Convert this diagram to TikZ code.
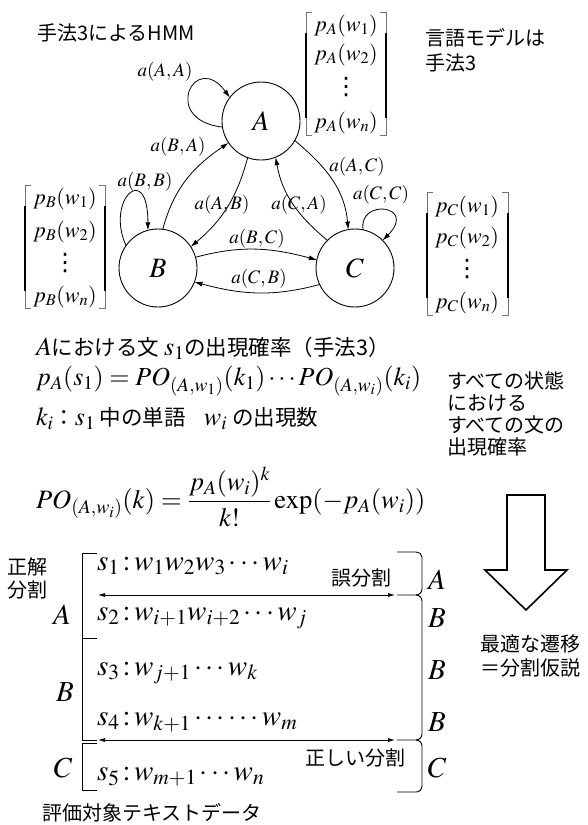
\documentclass[tikz,border=0pt]{standalone}
\usepackage{mathptmx}
\usepackage{fontspec}
\setmainfont{Liberation Serif}
\newfontfamily\jpf{Noto Sans CJK JP}
\newfontfamily\dvs{DejaVu Sans}
\usetikzlibrary{arrows.meta}
\newcommand{\mtxt}[2]{{\fontsize{#1}{#1}\selectfont$#2$}}
\newcommand{\myvdots}{{\dvs\fontsize{24}{24}\selectfont ⋮}}
\newcommand{\sixdots}{\mathinner{\cdotp\cdotp\cdotp\cdotp\cdotp\cdotp}}
\newcommand{\matbr}[4]{%
  \draw[brthin] (#1+6,#3) -- (#1,#3) -- (#1,#4) -- (#1+6,#4);
  \draw[brthin] (#2-6,#3) -- (#2,#3) -- (#2,#4) -- (#2-6,#4);
  \draw[brthick] (#1,#3+21) -- (#1,#4-17);
  \draw[brthick] (#2,#3+21) -- (#2,#4-17);
}
\begin{document}
\begin{tikzpicture}[x=1pt,y=-1pt,
  every node/.style={inner sep=0pt, outer sep=0pt},
  jp/.style={font=\jpf\fontsize{20}{24}\selectfont},
  jpb/.style={font=\jpf\fontsize{21.5}{26}\selectfont},
  lab/.style={font=\fontsize{19}{22}\selectfont},
  ent/.style={font=\fontsize{22}{24}\selectfont},
  st/.style={draw, circle, minimum size=78pt, line width=0.9pt, font=\fontsize{28}{30}\selectfont},
  ed/.style={-{Latex[length=8pt,width=5pt]}, line width=0.8pt},
  brthin/.style={line width=0.7pt, black!55},
  brthick/.style={line width=2.2pt},
  mb/.style={font=\fontsize{29}{31}\selectfont},
  sb/.style={line width=0.9pt},
  dbl/.style={{Latex[length=7pt,width=4pt]}-{Latex[length=7pt,width=4pt]}, line width=0.7pt},
]
\fill[white] (0,0) rectangle (587,825);
\useasboundingbox (0,0) rectangle (587,825);

% titles
\node[jp, anchor=west] (title) at (37,33) {手法3によるHMM};
\node[jp, anchor=west, align=left, font=\jpf\fontsize{20}{25}\selectfont] (lm) at (425,50.5) {言語モデルは\\手法3};

% states
\node[st] (A) at (261,121) {$A$};
\node[st] (B) at (158,268) {$B$};
\node[st] (C) at (355,268) {$C$};

% transitions
\draw[ed] (A.189) .. controls (160,120) and (195,50) .. (A.143);
\draw[ed] (B.83) to[out=75,in=214] (A.214);
\draw[ed] (A.250) to[out=255,in=40] (B.33);
\draw[ed] (C.135) to[out=140,in=280] (A.292);
\draw[ed] (A.330) to[out=-40,in=95] (C.100);
\draw[ed] (C.78) .. controls (358,198) and (418,205) .. (C.45);
\draw[ed] (B.145) .. controls (105,200) and (148,160) .. (B.105);
\draw[ed] (B.16) to[out=15,in=165] (C.168);
\draw[ed] (C.205) to[out=195,in=-15] (B.339);

\node[lab] (lAA) at (165,72) {$a(A,A)$};
\node[lab] (lBA) at (178,147) {$a(B,A)$};
\node[lab] (lAB) at (222,205) {$a(A,B)$};
\node[lab] (lCA) at (299,205) {$a(C,A)$};
\node[lab] (lAC) at (357,167) {$a(A,C)$};
\node[lab] (lCC) at (381,195) {$a(C,C)$};
\node[lab] (lBB) at (145,182) {$a(B,B)$};
\node[lab] (lBC) at (257,239) {$a(B,C)$};
\node[lab] (lCB) at (259,279) {$a(C,B)$};

% emission vectors
\matbr{306}{386}{12}{135}
\node[ent] (pa1) at (346,26) {$p_{A}(w_{1})$};
\node[ent] (pa2) at (346,55) {$p_{A}(w_{2})$};
\node[ent] (pa3) at (346,87) {\myvdots};
\node[ent] (pan) at (346,123) {$p_{A}(w_{n})$};

\matbr{25}{105}{185}{308}
\node[ent] (pb1) at (65,199) {$p_{B}(w_{1})$};
\node[ent] (pb2) at (65,232) {$p_{B}(w_{2})$};
\node[ent] (pb3) at (65,263) {\myvdots};
\node[ent] (pbn) at (65,297) {$p_{B}(w_{n})$};

\matbr{427}{508}{192}{315}
\node[ent] (pc1) at (467,207) {$p_{C}(w_{1})$};
\node[ent] (pc2) at (467,238) {$p_{C}(w_{2})$};
\node[ent] (pc3) at (467,269) {\myvdots};
\node[ent] (pcn) at (467,303) {$p_{C}(w_{n})$};

% formulas
\node[jpb, anchor=west] (f1) at (36,348) {\mtxt{26}{A}における文 \mtxt{26}{s_1}の出現確率（手法3）};
\node[jpb, anchor=west] (f2) at (36,381) {\mtxt{26}{p_A(s_1)=PO_{(A,w_1)}(k_1)\cdots PO_{(A,w_i)}(k_i)}};
\node[jpb, anchor=west] (f3) at (36,419) {\mtxt{26}{k_i}：\mtxt{26}{s_1} 中の単語\hspace{18pt}\mtxt{26}{w_i}\hspace{5pt}の出現数};
\node[jp, anchor=west] (f4) at (36,497) {\mtxt{26.5}{PO_{(A,w_i)}(k)=\displaystyle\frac{p_A(w_i)^k}{k!}\exp(-p_A(w_i))}};

\node[jp, anchor=west, align=left, font=\jpf\fontsize{20}{22}\selectfont] (all) at (447,414) {すべての状態\\における\\すべての文の\\出現確率};

% big arrow
\draw[line width=1.6pt] (507,495) -- (545,495) -- (545,570) -- (567,570) -- (526,610) -- (485,570) -- (507,570) -- cycle;
\node[jp, anchor=west, align=left, font=\jpf\fontsize{20}{24}\selectfont] (opt) at (480,656) {最適な遷移\\＝分割仮説};

% evaluation data
\node[jp, anchor=west, align=left, font=\jpf\fontsize{20}{23}\selectfont] (gold) at (8,578) {正解\\分割};
\draw[sb] (97,553) -- (82,553) -- (82,638) -- (97,638);
\draw[sb] (82,638) -- (82,740) -- (97,740);
\draw[sb] (97,743) -- (82,743) -- (82,790) -- (97,790);
\draw[sb] (397,552) -- (416,552) to[out=0,in=90] (422,557) -- (422,589) to[out=270,in=0] (416,595) -- (397,595);
\draw[sb] (416,595) to[out=0,in=90] (422,601) -- (422,734) to[out=270,in=0] (416,740) -- (397,740);
\draw[sb] (416,740) to[out=0,in=90] (422,746) -- (422,786) to[out=270,in=0] (416,792) -- (397,792);

\node[mb] (gA) at (62,615) {$A$};
\node[mb] (gB) at (65,692) {$B$};
\node[mb] (gC) at (63,768) {$C$};

\node[mb, anchor=west] (s1) at (97,566) {$s_1\,{:}\,w_1w_2w_3\cdots w_i$};
\node[mb, anchor=west] (s2) at (97,618) {$s_2\,{:}\,w_{i+1}w_{i+2}\cdots w_j$};
\node[mb, anchor=west] (s3) at (97,673) {$s_3\,{:}\,w_{j+1}\cdots w_k$};
\node[mb, anchor=west] (s4) at (97,722) {$s_4\,{:}\,w_{k+1}\sixdots w_m$};
\node[mb, anchor=west] (s5) at (97,777) {$s_5\,{:}\,w_{m+1}\cdots w_n$};

\node[mb] (hA) at (437,580) {$A$};
\node[mb] (hB1) at (437,618) {$B$};
\node[mb] (hB2) at (437,670) {$B$};
\node[mb] (hB3) at (437,722) {$B$};
\node[mb] (hC) at (437,768) {$C$};

\coordinate (e1l) at (98,595);
\coordinate (e1r) at (395,595);
\coordinate (e2l) at (98,740);
\coordinate (e2r) at (395,740);
\draw[dbl] (e1l) -- (e1r);
\draw[dbl] (e2l) -- (e2r);
\node[jp] (mis) at (361,578) {誤分割};
\node[jp] (cor) at (355,758) {正しい分割};

\node[jp, anchor=west] (data) at (42,813) {評価対象テキストデータ};
\end{tikzpicture}
\end{document}
